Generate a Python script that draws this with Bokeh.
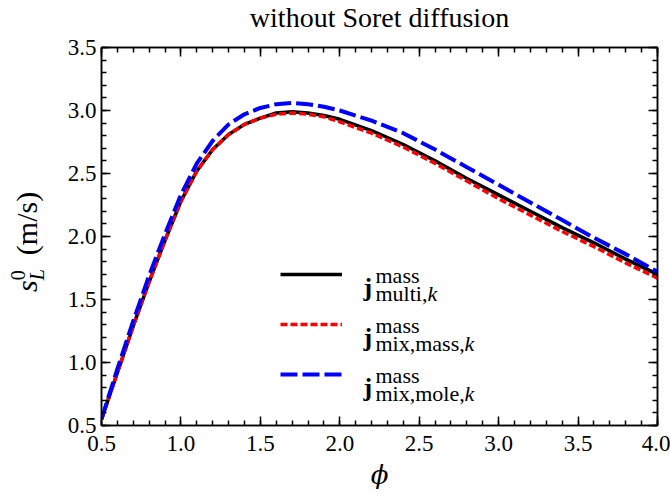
from bokeh.plotting import figure
from bokeh.layouts import row
from bokeh.models import (Label, LinearAxis, SingleIntervalTicker, Legend, LegendItem,
                          Range1d, PrintfTickFormatter, CustomJSTickFormatter, Div)
from bokeh.embed import file_html
from bokeh.resources import INLINE

# ---------------- data ----------------
phi = [0.5, 0.6, 0.7, 0.8, 0.9, 1.0, 1.1, 1.2, 1.3, 1.4, 1.5, 1.6, 1.7, 1.8, 1.9, 2.0,
       2.2, 2.4, 2.6, 2.8, 3.0, 3.2, 3.4, 3.6, 3.8, 4.0]
sL_multi = [0.55, 0.92, 1.29, 1.64, 1.97, 2.28, 2.52, 2.69, 2.81, 2.89, 2.94, 2.98, 2.99, 2.98, 2.96, 2.93,
            2.84, 2.73, 2.60, 2.46, 2.33, 2.20, 2.07, 1.95, 1.82, 1.70]
sL_mix_mass = [0.55, 0.92, 1.29, 1.64, 1.97, 2.28, 2.52, 2.69, 2.81, 2.89, 2.94, 2.97, 2.98, 2.97, 2.95, 2.91,
               2.82, 2.71, 2.58, 2.44, 2.30, 2.17, 2.04, 1.92, 1.79, 1.67]
sL_mix_mole = [0.55, 0.95, 1.33, 1.69, 2.02, 2.33, 2.58, 2.76, 2.89, 2.97, 3.02, 3.05, 3.06, 3.05, 3.03, 3.00,
               2.92, 2.82, 2.69, 2.55, 2.41, 2.27, 2.13, 1.99, 1.86, 1.72]
x_limits = (0.5, 4.0)
y_limits = (0.5, 3.5)
title_text = "without Soret diffusion"
x_label = "ϕ"
legend_subs = ["multi,", "mix,mass,", "mix,mole,"]

SERIF = "Liberation Serif"

p = figure(frame_width=556, frame_height=378,
           x_range=Range1d(*x_limits), y_range=Range1d(*y_limits),
           output_backend="svg", toolbar_location=None,
           min_border_left=51, min_border_top=46, min_border_right=13, min_border_bottom=73,
           background_fill_color="white", border_fill_color="white")
p.xgrid.visible = False
p.ygrid.visible = False
p.outline_line_color = "black"
p.outline_line_width = 1.5
p.outline_line_alpha = 1.0

p.title.text = title_text
p.title.text_font = SERIF
p.title.text_font_size = "28px"
p.title.text_font_style = "normal"
p.title.text_color = "black"
p.title.align = "center"
p.title.standoff = -2


def style_axis(ax, show_labels):
    ax.ticker = SingleIntervalTicker(interval=0.5, num_minor_ticks=5)
    ax.major_tick_in = 9
    ax.major_tick_out = 0
    ax.minor_tick_in = 5
    ax.minor_tick_out = 0
    ax.major_tick_line_width = 1.5
    ax.minor_tick_line_width = 1.5
    ax.major_tick_line_color = "black"
    ax.minor_tick_line_color = "black"
    ax.axis_line_width = 1.5
    ax.axis_line_color = "black"
    if show_labels:
        ax.formatter = PrintfTickFormatter(format="%.1f")
        ax.major_label_text_font = SERIF
        ax.major_label_text_font_size = "23px"
        ax.major_label_text_color = "black"
    else:
        ax.formatter = CustomJSTickFormatter(code="return ''")
        ax.major_label_text_font_size = "1px"
        ax.major_label_standoff = 0


style_axis(p.xaxis[0], True)
style_axis(p.yaxis[0], True)
p.xaxis[0].major_label_standoff = 10
p.yaxis[0].major_label_standoff = 5
p.xaxis[0].axis_label = x_label
p.xaxis[0].axis_label_text_font = "DejaVu Serif"
p.xaxis[0].axis_label_text_font_style = "italic"
p.xaxis[0].axis_label_text_font_size = "26px"
p.xaxis[0].axis_label_text_color = "black"
p.xaxis[0].axis_label_standoff = 6

top_ax = LinearAxis()
right_ax = LinearAxis()
style_axis(top_ax, False)
style_axis(right_ax, False)
# blank spacer label on the mirrored top axis keeps the title clear of the frame
top_ax.axis_label = " "
top_ax.axis_label_text_font_size = "10px"
top_ax.axis_label_standoff = 2
p.add_layout(top_ax, "above")
p.add_layout(right_ax, "right")

# ---------------- curves ----------------
r_multi = p.line(phi, sL_multi, line_color="black", line_width=3.5)
r_mass = p.line(phi, sL_mix_mass, line_color="red", line_width=3.5, line_dash="7 3")
r_mole = p.line(phi, sL_mix_mole, line_color="blue", line_width=4, line_dash="17 5")

# ---------------- legend (samples) ----------------
legend = Legend(items=[LegendItem(label=" ", renderers=[r_multi]),
                       LegendItem(label=" ", renderers=[r_mass]),
                       LegendItem(label=" ", renderers=[r_mole])],
                location=(179, 41), orientation="vertical",
                glyph_width=62, glyph_height=20, label_height=20, spacing=30,
                label_text_font_size="1px", label_standoff=0,
                padding=0, margin=0, border_line_color=None, background_fill_alpha=0)
p.add_layout(legend, "center")

entry_y = [151, 101, 51]
for yL, sub in zip(entry_y, legend_subs):
    p.add_layout(Label(x=262, y=yL - 13, x_units="screen", y_units="screen", text="j",
                       text_font=SERIF, text_font_style="bold", text_font_size="26px",
                       text_color="black", text_baseline="alphabetic", text_align="left"))
    p.add_layout(Label(x=274, y=yL - 1, x_units="screen", y_units="screen", text="mass",
                       text_font=SERIF, text_font_size="22px",
                       text_color="black", text_baseline="alphabetic", text_align="left"))
    p.add_layout(Label(x=274, y=yL - 19, x_units="screen", y_units="screen", text=sub,
                       text_font=SERIF, text_font_size="22px",
                       text_color="black", text_baseline="alphabetic", text_align="left"))
    w = 52 if sub == "multi," else 89
    p.add_layout(Label(x=274 + w, y=yL - 19, x_units="screen", y_units="screen", text="k",
                       text_font=SERIF, text_font_style="italic", text_font_size="22px",
                       text_color="black", text_baseline="alphabetic", text_align="left"))

# ---------------- y-axis label (HTML, rotated) ----------------
ylabel_html = (
    '<div style="position:relative;width:50px;height:497px;">'
    '<div style="position:absolute;left:12px;top:292px;transform-origin:0 0;'
    'transform:rotate(-90deg);white-space:nowrap;font-family:\'Liberation Serif\';'
    'font-size:30px;line-height:30px;color:#000;">'
    '<i>s</i>'
    '<span style="font-size:20px;line-height:0;vertical-align:-7px;"><i>L</i></span>'
    '<span style="font-size:20px;line-height:0;vertical-align:12px;margin-left:-11px;">0</span>'
    '<span>&nbsp;&nbsp;(m/s)</span>'
    '</div></div>'
)
ydiv = Div(text=ylabel_html, width=50, height=497, margin=0)

layout = row(ydiv, p, spacing=0)
open("out.html", "w").write(file_html(layout, INLINE))
